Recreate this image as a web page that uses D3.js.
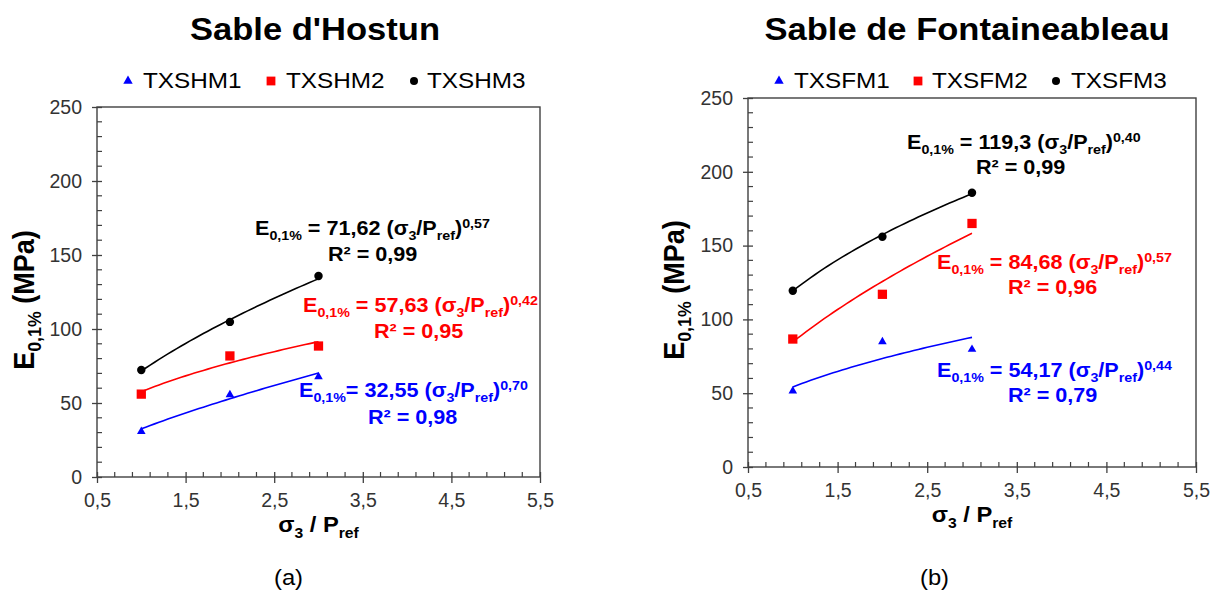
<!DOCTYPE html>
<html><head><meta charset="utf-8">
<script src="https://cdn.jsdelivr.net/npm/d3@7"></script>
<style>body{margin:0;background:#fff}svg{display:block}text{font-family:Arial,"Liberation Sans",sans-serif;white-space:pre}</style>
</head><body><svg id="c" width="1211" height="594"></svg>
<script>
// ---------- data ----------
const xTicks = [0.5, 1.5, 2.5, 3.5, 4.5, 5.5];
const xTickLabels = ["0,5", "1,5", "2,5", "3,5", "4,5", "5,5"];
const yTicks = [0, 50, 100, 150, 200, 250];
const xValues = [1, 2, 3];
const seriesColors = ["#0000ff", "#ff0000", "#000000"];
const seriesSymbols = ["triangle", "square", "circle"];

// Sable d'Hostun
const hostunNames = ["TXSHM1", "TXSHM2", "TXSHM3"];
const hostunM1 = [30.8, 55.6, 67.7];
const hostunM2 = [56.0, 81.8, 88.5];
const hostunM3 = [72.3, 104.8, 135.8];
const hostunFitA = [32.55, 57.63, 71.62];
const hostunFitB = [0.70, 0.42, 0.57];
const hostunCoefLabels = ["32,55", "57,63", "71,62"];
const hostunExpLabels = ["0,70", "0,42", "0,57"];
const hostunR2Labels = ["0,98", "0,95", "0,99"];

// Sable de Fontainebleau
const fontNames = ["TXSFM1", "TXSFM2", "TXSFM3"];
const fontM1 = [51.5, 84.9, 79.7];
const fontM2 = [86.7, 117.0, 165.0];
const fontM3 = [119.4, 156.0, 185.8];
const fontFitA = [54.17, 84.68, 119.3];
const fontFitB = [0.44, 0.57, 0.40];
const fontCoefLabels = ["54,17", "84,68", "119,3"];
const fontExpLabels = ["0,44", "0,57", "0,40"];
const fontR2Labels = ["0,79", "0,96", "0,99"];

// ---------- drawing ----------
const svg = d3.select("#c");
const SX = 1.08;
const AXIS = "#404040";

function rich(x, y, segs, o) {
  const g = svg.append("g").attr("transform",
    `translate(${x},${y}) scale(${SX},1)` + (o.rotate ? ` rotate(${o.rotate})` : ""));
  const t = g.append("text").attr("font-size", o.size)
    .attr("font-weight", o.bold ? "bold" : "normal")
    .attr("fill", o.color || "#000").attr("text-anchor", o.anchor || "start");
  let cur = 0;
  segs.forEach(s => {
    const kind = typeof s === "string" ? "n" : s.k;
    const txt = typeof s === "string" ? s : s.t;
    const target = kind === "sub" ? o.size * 0.25 : kind === "sup" ? -o.size * 0.36 : 0;
    t.append("tspan").attr("font-size", kind === "n" ? o.size : o.size * 0.66)
      .attr("dy", target - cur).text(txt);
    cur = target;
  });
  return t;
}

function symbolPath(kind, size) {
  const s = kind === "triangle" ? d3.symbolTriangle : kind === "square" ? d3.symbolSquare : d3.symbolCircle;
  return d3.symbol().type(s).size(size)();
}
const symSize = { triangle: 32, square: 86, circle: 56 };

function panel(cfg) {
  const x = d3.scaleLinear().domain([0.5, 5.5]).range([cfg.x0, cfg.x1]);
  const y = d3.scaleLinear().domain([0, 250]).range([cfg.yb, cfg.yt]);
  const g = svg.append("g");

  // frame
  g.append("rect").attr("x", cfg.x0).attr("y", cfg.yt)
    .attr("width", cfg.x1 - cfg.x0).attr("height", cfg.yb - cfg.yt)
    .attr("fill", "none").attr("stroke", AXIS).attr("stroke-width", 1.4);

  // y axis
  const yAx = g.append("g").attr("transform", `translate(${cfg.x0},0)`)
    .call(d3.axisLeft(y).tickValues(yTicks).tickSize(5).tickPadding(10).tickFormat(d3.format("d")));
  yAx.select(".domain").remove();
  yAx.selectAll(".tick line").attr("x2", -5).attr("x1", 5).attr("stroke", AXIS).attr("stroke-width", 1.3);
  yAx.selectAll(".tick text").attr("font-size", 19.5).attr("fill", "#333")
    .attr("font-family", "Arial, 'Liberation Sans', sans-serif");
  const yMinor = d3.range(0, 251, 10).filter(v => v % 50 !== 0);
  g.selectAll(null).data(yMinor).join("line")
    .attr("x1", cfg.x0).attr("x2", cfg.x0 + 5).attr("y1", d => y(d)).attr("y2", d => y(d))
    .attr("stroke", AXIS).attr("stroke-width", 1.2);

  // x axis
  const xAx = g.append("g").attr("transform", `translate(0,${cfg.yb})`)
    .call(d3.axisBottom(x).tickValues(xTicks).tickSize(6).tickPadding(10)
      .tickFormat((d, i) => xTickLabels[i]));
  xAx.select(".domain").remove();
  xAx.selectAll(".tick line").attr("y1", -5).attr("y2", 6).attr("stroke", AXIS).attr("stroke-width", 1.3);
  xAx.selectAll(".tick text").attr("font-size", 19.5).attr("fill", "#333")
    .attr("font-family", "Arial, 'Liberation Sans', sans-serif");
  const xMinor = d3.range(0, 25).map(i => 0.5 + i * 0.2).filter(v => Math.abs((v - 0.5) % 1) > 0.01 && Math.abs((v - 0.5) % 1 - 1) > 0.01);
  g.selectAll(null).data(xMinor).join("line")
    .attr("x1", d => x(d)).attr("x2", d => x(d)).attr("y1", cfg.yb).attr("y2", cfg.yb - 5)
    .attr("stroke", AXIS).attr("stroke-width", 1.2);

  // trend lines
  const line = d3.line().x(d => x(d[0])).y(d => y(d[1])).curve(d3.curveLinear);
  cfg.fitA.forEach((a, i) => {
    const pts = d3.range(1, 3.0001, 0.05).map(v => [v, a * Math.pow(v, cfg.fitB[i])]);
    g.append("path").attr("d", line(pts)).attr("fill", "none")
      .attr("stroke", seriesColors[i]).attr("stroke-width", 1.6);
  });

  // markers
  cfg.series.forEach((vals, i) => {
    g.selectAll(null).data(vals).join("path")
      .attr("transform", (d, j) => `translate(${x(xValues[j])},${y(d)})`)
      .attr("d", symbolPath(seriesSymbols[i], symSize[seriesSymbols[i]]))
      .attr("fill", seriesColors[i]);
  });

  // legend
  cfg.names.forEach((n, i) => {
    svg.append("path").attr("transform", `translate(${cfg.legSym[i]},81)`)
      .attr("d", symbolPath(seriesSymbols[i], symSize[seriesSymbols[i]] * (i === 0 ? 1.2 : 0.9)))
      .attr("fill", seriesColors[i]);
    rich(cfg.legTxt[i], 88, [n], { size: 22.5 });
  });

  // title
  rich(cfg.titleX, 40, [cfg.title], { size: 32, bold: true, anchor: "middle" });

  // axis titles
  rich(cfg.yTitleX, cfg.yTitleY, ["E", { k: "sub", t: "0,1%" }, " (MPa)"],
    { size: 27, bold: true, anchor: "middle", rotate: -90 });
  rich((cfg.x0 + cfg.x1) / 2, cfg.yb + 55, ["σ", { k: "sub", t: "3" }, " / P", { k: "sub", t: "ref" }],
    { size: 22, bold: true, anchor: "middle" });

  // equations
  cfg.coef.forEach((c, i) => {
    const eq = cfg.eqPos[i];
    rich(eq[0], eq[1], ["E", { k: "sub", t: "0,1%" }, (cfg.noSpace && i === 0 ? "= " : " = ") + c + " (σ",
      { k: "sub", t: "3" }, "/P", { k: "sub", t: "ref" }, ")", { k: "sup", t: cfg.exps[i] }],
      { size: 20, bold: true, color: seriesColors[i] });
    rich(eq[2], eq[3], ["R² = " + cfg.r2[i]], { size: 20, bold: true, color: seriesColors[i] });
  });

  rich(cfg.capX, 585, [cfg.caption], { size: 22 });
}

panel({
  x0: 97, x1: 540, yt: 107, yb: 477,
  series: [hostunM1, hostunM2, hostunM3], names: hostunNames,
  fitA: hostunFitA, fitB: hostunFitB,
  coef: hostunCoefLabels, exps: hostunExpLabels, r2: hostunR2Labels, noSpace: true,
  eqPos: [[299, 397, 368, 424], [303, 312, 374, 338], [255, 235, 328, 261]],
  legSym: [128, 271, 414], legTxt: [143, 286, 427],
  title: "Sable d'Hostun", titleX: 315,
  yTitleX: 34, yTitleY: 300, capX: 274, caption: "(a)"
});
panel({
  x0: 748, x1: 1196, yt: 98, yb: 467,
  series: [fontM1, fontM2, fontM3], names: fontNames,
  fitA: fontFitA, fitB: fontFitB,
  coef: fontCoefLabels, exps: fontExpLabels, r2: fontR2Labels, noSpace: false,
  eqPos: [[937, 377, 1008, 402], [937, 269, 1008, 294], [907, 149, 976, 174]],
  legSym: [779, 918, 1056], legTxt: [794, 932, 1071],
  title: "Sable de Fontaineableau", titleX: 967,
  yTitleX: 684, yTitleY: 290, capX: 920, caption: "(b)"
});
</script></body></html>
